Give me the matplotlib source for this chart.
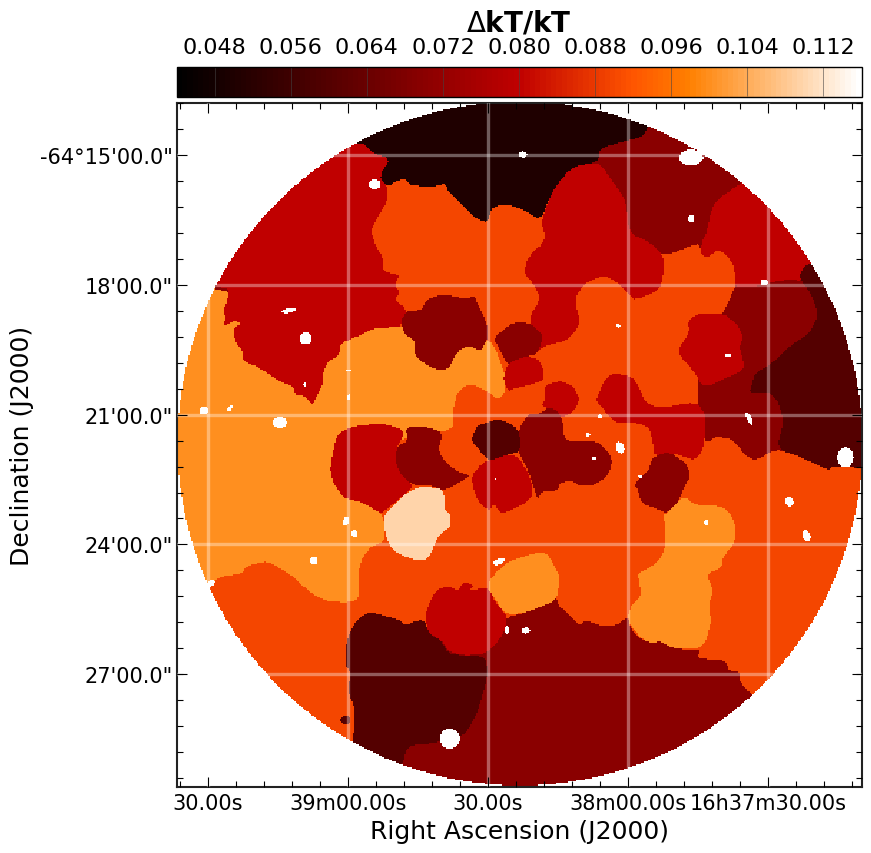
import numpy as np
import matplotlib
matplotlib.use("Agg")
import matplotlib.pyplot as plt
from matplotlib.path import Path
from matplotlib.cm import ScalarMappable
from matplotlib.colors import Normalize

# region outlines, in map pixels; later regions lie over earlier ones
orange_main = [(663,258),(688,248),(698,245),(700,255),(705,260),(718,250),(732,265),(735,285),(732,292),(722,315),(700,350),(695,403),(703,445),(715,438),(728,440),(735,445),(745,458),(755,462),(775,450),(798,458),(827,472),(832,467),(862,470),(890,470),(890,800),(750,697),(738,682),(738,673),(727,672),(725,662),(695,660),(700,651),(678,651),(663,645),(658,638),(653,645),(642,642),(630,632),(627,618),(615,627),(602,628),(585,622),(578,627),(565,613),(557,607),(555,597),(548,605),(532,610),(522,615),(507,618),(487,640),(463,640),(423,625),(400,640),(380,700),(375,755),(340,770),(150,640),(150,590),(200,450),(330,280),(350,180),(395,170),(520,170),(560,210),(600,240)]
red_ne = [(715,202),(735,188),(760,170),(840,250),(808,265),(798,275),(800,283),(788,280),(735,292),(700,262),(700,245),(705,235),(710,212)]
black_north = [(340,140),(348,147),(362,144),(373,155),(390,160),(378,178),(387,188),(397,182),(405,181),(410,187),(433,188),(445,185),(447,193),(457,202),(472,218),(487,225),(490,210),(503,205),(520,210),(540,222),(548,200),(563,177),(573,168),(598,163),(598,150),(622,143),(642,138),(647,127),(660,95),(340,95)]
orange_west = [(150,285),(215,288),(300,320),(373,330),(400,328),(440,330),(489,342),(495,352),(503,372),(505,392),(498,402),(487,393),(470,385),(457,392),(452,412),(453,428),(443,433),(400,440),(340,470),(380,515),(383,522),(385,542),(370,548),(360,562),(357,578),(358,602),(343,604),(323,602),(307,592),(295,580),(283,572),(267,562),(245,568),(242,575),(220,578),(210,585),(150,600)]
red_nw = [(348,147),(362,144),(373,155),(390,160),(378,178),(387,188),(387,202),(377,218),(370,232),(375,248),(382,258),(382,273),(400,277),(393,285),(400,295),(393,300),(407,312),(400,325),(400,328),(373,330),(363,335),(347,342),(340,345),(338,358),(327,363),(322,375),(323,385),(317,395),(312,407),(303,397),(295,397),(293,388),(277,382),(260,370),(242,362),(242,352),(235,345),(233,330),(241,325),(233,322),(223,328),(225,318),(222,312),(227,302),(228,290),(215,288),(190,270),(330,120)]
red_north = [(540,222),(552,192),(563,177),(573,168),(598,163),(613,185),(625,202),(628,235),(648,243),(663,258),(662,278),(658,292),(633,302),(627,295),(615,283),(602,277),(583,285),(573,302),(580,325),(567,342),(542,348),(535,355),(528,318),(540,300),(532,285),(523,275),(527,258),(545,242)]
dark_west = [(400,322),(407,312),(420,312),(427,300),(443,296),(463,300),(475,298),(476,305),(485,322),(488,337),(480,353),(468,347),(457,352),(447,372),(430,370),(413,357),(415,343),(403,335)]
dark_center_n = [(492,340),(513,323),(530,325),(542,337),(540,345),(535,357),(523,358),(513,365),(505,365),(497,347)]
red_center = [(503,377),(507,365),(523,358),(537,360),(543,372),(543,382),(527,387),(513,390),(507,393),(503,383)]
red_center_e = [(543,387),(560,382),(572,388),(579,400),(573,413),(560,420),(557,412),(540,408),(545,400)]
red_west = [(329,470),(335,440),(340,433),(357,427),(383,425),(405,432),(397,447),(394,460),(400,477),(413,487),(405,495),(383,513),(380,515),(360,503),(343,500),(333,485)]
dark_sw_center = [(405,428),(423,428),(442,433),(437,453),(448,467),(457,473),(470,477),(457,485),(443,492),(430,487),(413,487),(400,477),(394,460),(397,447),(407,443)]
peach = [(383,517),(402,497),(417,488),(443,490),(443,510),(450,517),(450,528),(437,537),(428,560),(417,562),(400,557),(388,547),(383,528)]
red_south_center = [(470,477),(483,463),(503,457),(517,457),(530,480),(532,500),(510,512),(500,515),(493,505),(488,513),(475,500)]
dark_s_center = [(518,430),(528,415),(540,415),(547,408),(557,413),(562,423),(563,443),(597,442),(612,460),(607,477),(593,487),(580,488),(570,482),(558,485),(557,492),(540,493),(537,502),(530,480),(523,463),(517,453)]
darker_center = [(470,443),(475,428),(488,423),(498,420),(518,430),(520,453),(503,457),(488,463),(480,453)]
red_mid_e = [(595,400),(607,375),(630,377),(640,392),(643,403),(658,410),(695,403),(705,417),(703,445),(700,455),(692,462),(675,455),(652,457),(652,445),(648,428),(628,423),(615,425),(597,405)]
dark_east = [(722,315),(735,292),(765,287),(788,280),(800,283),(810,295),(817,317),(808,335),(788,348),(768,367),(753,375),(751,385),(748,395),(768,393),(778,405),(782,425),(775,450),(755,462),(745,458),(735,445),(728,440),(715,438),(705,445),(703,420),(695,403),(703,390),(715,350)]
darker_east = [(798,275),(808,263),(890,263),(890,472),(862,470),(832,467),(827,472),(798,458),(775,450),(782,425),(778,405),(768,393),(748,395),(751,385),(753,375),(768,367),(788,348),(808,335),(817,317),(810,295),(800,283)]
red_east = [(687,322),(697,315),(722,315),(735,325),(742,338),(738,348),(742,362),(742,372),(728,378),(703,390),(692,372),(675,353),(688,335)]
dark_blob_e = [(633,485),(647,473),(652,458),(668,453),(685,465),(690,477),(682,490),(678,502),(665,515),(655,510),(640,505),(637,492)]
orange_east = [(683,498),(695,507),(725,508),(735,528),(733,545),(722,558),(720,570),(705,575),(712,592),(707,608),(710,622),(705,642),(698,650),(675,651),(657,642),(653,645),(642,642),(628,625),(627,617),(630,607),(640,598),(638,582),(636,575),(652,567),(663,555),(665,532),(662,517),(665,515),(678,502)]
orange_south = [(486,588),(492,577),(507,563),(532,555),(545,553),(558,575),(558,588),(555,602),(535,610),(522,615),(503,615),(495,602)]
red_south = [(424,617),(433,593),(447,587),(457,593),(463,583),(473,587),(467,593),(487,588),(495,605),(507,618),(503,635),(487,655),(463,657),(447,653),(442,643),(433,638),(427,632)]
darker_sw = [(352,745),(355,712),(347,693),(350,673),(344,668),(345,645),(353,625),(367,613),(383,617),(400,622),(403,627),(423,620),(428,635),(440,642),(447,655),(463,657),(485,658),(487,678),(477,712),(467,732),(457,740),(430,745),(407,747),(402,765),(380,800),(340,770)]
darker_sw_spot = [(338,722),(343,717),(350,718),(348,727),(342,725)]

regions = [red_ne, orange_main, black_north, orange_west, red_nw, red_north, red_west, dark_west, dark_center_n,
           red_center, red_center_e, dark_sw_center, peach, red_south_center, dark_s_center, darker_center,
           dark_east, darker_east, red_east, red_mid_e, dark_blob_e, orange_east, orange_south, red_south,
           darker_sw, darker_sw_spot]
region_values = [0.08, 0.09, 0.05, 0.10, 0.08, 0.08, 0.08, 0.07, 0.07,
                 0.08, 0.08, 0.07, 0.11, 0.08, 0.07, 0.06,
                 0.07, 0.06, 0.08, 0.08, 0.07, 0.10, 0.10, 0.08,
                 0.06, 0.06]
base_value = 0.07

# masked sources: x, y, half width, half height, angle
holes = [(522,156,4,3,0),(690,159,12,8,0),(374,186,6,5,0),(690,220,3,4,0),(763,284,4,3,0),(288,312,7,2.5,-10),
         (305,340,6,6,0),(617,327,2,2,0),(727,357,3,2,0),(304,386,1.5,2,0),(348,399,2,3,0),(348,372,3,0.8,0),
         (203,412,4.5,4,0),(229,410,2,3.5,35),(279,424,7,5.5,0),(748,420,2.5,7,-25),(599,418,2,2,0),(587,436,2,2,0),
         (619,449,4,6,-20),(593,460,2,1.5,0),(639,478,2,1.5,0),(495,481,1,1,0),(844,459,8,10,0),(788,503,4,5,-15),
         (805,537,4,6,-20),(705,524,2,3,0),(345,523,3,5,25),(354,535,3,3.5,-30),(313,562,4,4,0),(498,563,6,3,-20),
         (506,631,2,4,0),(525,632,4,3,0),(449,740,10,10,0),(210,585,5,3,-35)]

center_x, center_y, radius = 519, 445, 342

x_ticks = [208, 348, 488, 628, 768]
x_labels = ["30.00s", "39m00.00s", "30.00s", "38m00.00s", "16h37m30.00s"]
y_ticks = [156.3, 286, 415.7, 545.4, 675]
y_labels = ['-64°15\'00.0"', '18\'00.0"', '21\'00.0"', '24\'00.0"', '27\'00.0"']
cbar_ticks = [0.048, 0.056, 0.064, 0.072, 0.080, 0.088, 0.096, 0.104, 0.112]
vmin, vmax = 0.044, 0.116


def smooth(poly, passes=2):
    # corner cutting, the traced outlines are rounder in the original
    p = np.array(poly, dtype=float)
    for _ in range(passes):
        q = np.roll(p, -1, axis=0)
        p = np.column_stack([0.8 * p + 0.2 * q, 0.2 * p + 0.8 * q]).reshape(-1, 2)
    return p


# %%
step = 1.43
xs = np.arange(center_x - radius, center_x + radius + step, step)
ys = np.arange(center_y - radius, center_y + radius + step, step)
xx, yy = np.meshgrid(xs, ys)
pts = np.column_stack([xx.ravel(), yy.ravel()])

img = np.full(xx.shape, base_value, dtype=float)
for poly, val in zip(regions, region_values):
    inside = Path(smooth(poly), closed=False).contains_points(pts).reshape(xx.shape)
    img[inside] = val

img[(xx - center_x) ** 2 + (yy - center_y) ** 2 > radius ** 2] = np.nan
for hx, hy, a, b, ang in holes:
    t = np.deg2rad(ang)
    u = (xx - hx) * np.cos(t) + (yy - hy) * np.sin(t)
    v = -(xx - hx) * np.sin(t) + (yy - hy) * np.cos(t)
    img[(u / a) ** 2 + (v / b) ** 2 <= 1] = np.nan

# %%
plt.rcParams.update({"font.family": "DejaVu Sans", "font.size": 15})
W, H = 871, 854
fig = plt.figure(figsize=(W / 100, H / 100), dpi=100)
ax = fig.add_axes([176.5 / W, 1 - 787.5 / H, 685 / W, 684 / H])

cmap = plt.get_cmap("gist_heat").copy()
cmap.set_bad("white")
ax.imshow(
    np.ma.masked_invalid(img),
    cmap=cmap,
    vmin=vmin,
    vmax=vmax,
    interpolation="nearest",
    extent=[xs[0] - step / 2, xs[-1] + step / 2, ys[-1] + step / 2, ys[0] - step / 2],
    aspect="auto",
    zorder=1,
)
ax.set_xlim(176.5, 861.5)
ax.set_ylim(787.5, 103.5)

ax.set_xticks(x_ticks)
ax.set_xticklabels(x_labels)
ax.set_yticks(y_ticks)
ax.set_yticklabels(y_labels)
ax.set_xticks(np.arange(180, 861, 28), minor=True)
ax.set_yticks(np.arange(y_ticks[0] - 2 * 25.94, 787, 25.94), minor=True)
ax.tick_params(which="major", direction="in", length=7.5, width=0.8, top=True, right=True, labelsize=15)
ax.tick_params(axis="y", which="major", pad=2.5)
ax.tick_params(axis="x", which="major", pad=5)
ax.tick_params(which="minor", direction="in", length=4, width=0.8, top=True, right=True)
ax.grid(which="major", color="white", alpha=0.36, lw=2.4, zorder=2)
ax.set_axisbelow(False)
for s in ax.spines.values():
    s.set_linewidth(1.5)
    s.set_color("#222222")

ax.set_xlabel("Right Ascension (J2000)", fontsize=18, labelpad=4)
ax.set_ylabel("Declination (J2000)", fontsize=18)
ax.yaxis.set_label_coords(-0.2075, 0.5)

cax = fig.add_axes([176.5 / W, 1 - 98 / H, 685 / W, 30 / H])
cb_cmap = plt.get_cmap("gist_heat", 128)
cb = fig.colorbar(
    ScalarMappable(Normalize(vmin, vmax), cb_cmap), cax=cax, orientation="horizontal", ticks=cbar_ticks
)
cb.ax.xaxis.set_ticks_position("top")
cb.ax.set_xticklabels([f"{t:.3f}" for t in cbar_ticks])
cb.ax.tick_params(direction="in", length=21, width=0.4, pad=7, labelsize=16, color="#444444")
cb.outline.set_linewidth(1.0)

fig.text(519 / W, 1 - 24 / H, r"$\Delta$kT/kT", ha="center", va="center", fontsize=20, fontweight="bold")

plt.savefig("out.png", dpi=100)
